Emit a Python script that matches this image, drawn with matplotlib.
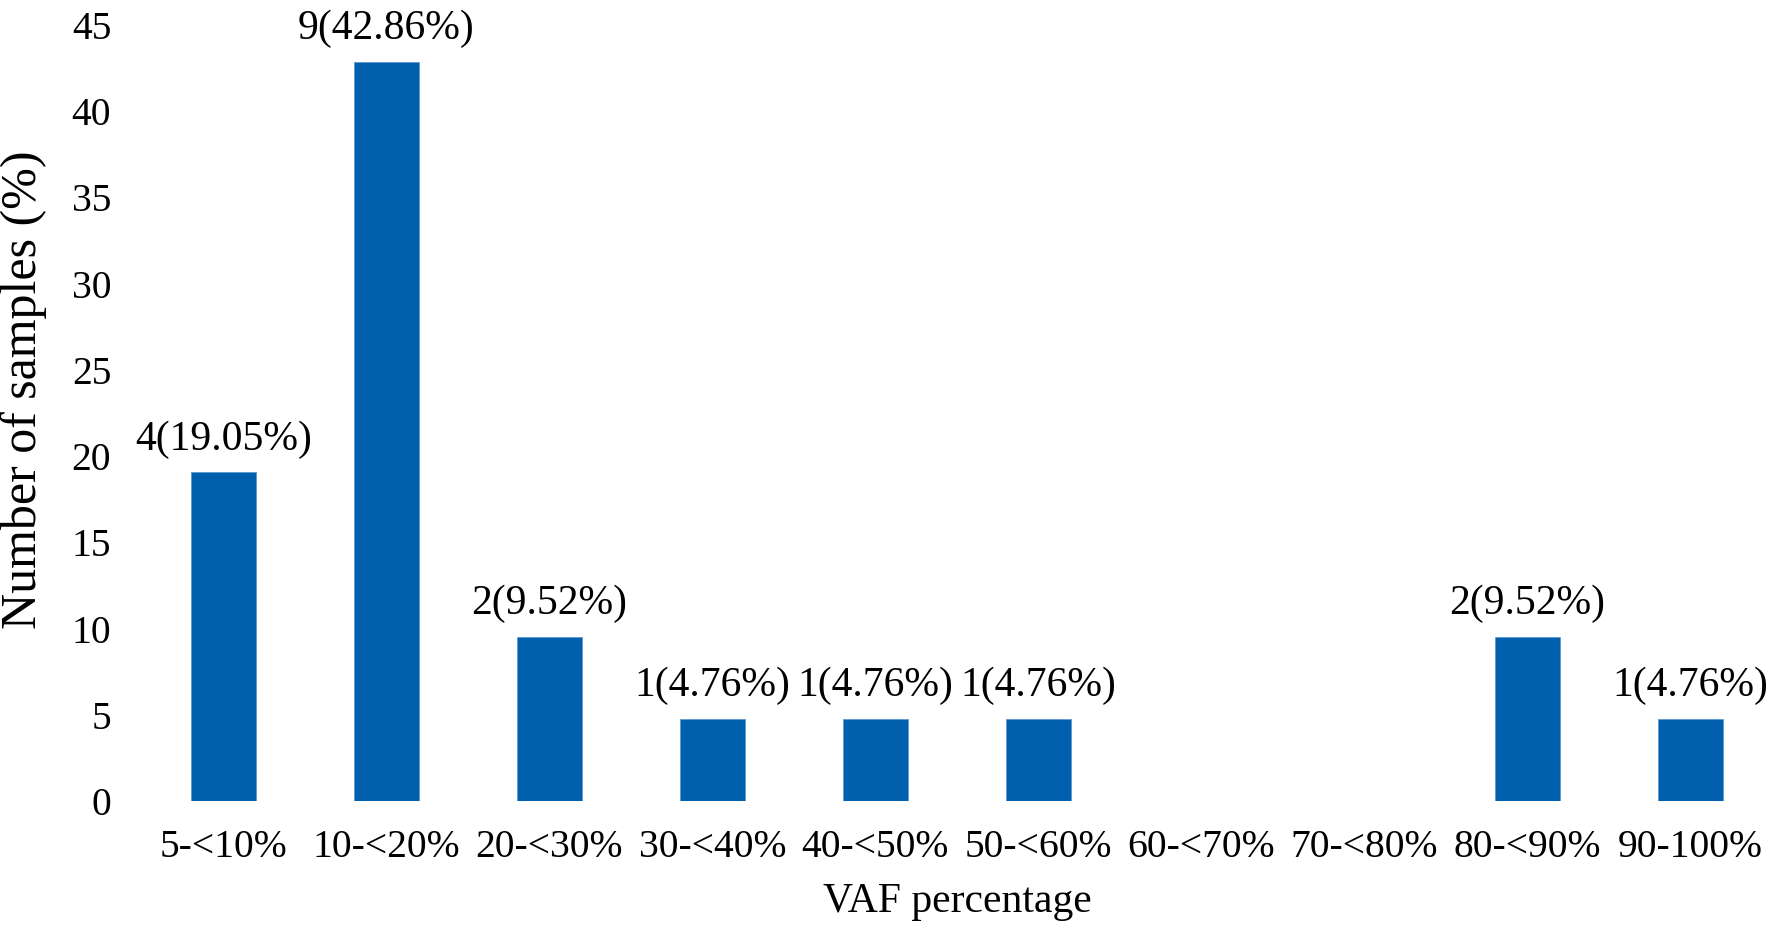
import matplotlib
matplotlib.use("Agg")
import matplotlib.pyplot as plt

categories = ["5-<10%", "10-<20%", "20-<30%", "30-<40%", "40-<50%",
              "50-<60%", "60-<70%", "70-<80%", "80-<90%", "90-100%"]
counts = [4, 9, 2, 1, 1, 1, 0, 0, 2, 1]
percents = [19.05, 42.86, 9.52, 4.76, 4.76, 4.76, 0, 0, 9.52, 4.76]
yticks = [0, 5, 10, 15, 20, 25, 30, 35, 40, 45]

plt.rcParams['font.family'] = ['Liberation Serif', 'DejaVu Serif']

fig = plt.figure(figsize=(17.72, 9.27), dpi=100)
ax = fig.add_axes([0.080, 0.136, 0.920, 0.837])

x = list(range(len(categories)))
ax.bar(x, percents, width=0.4, color='#0060AD', edgecolor='#5B9BD5', linewidth=0.6)

for xi, c, p in zip(x, counts, percents):
    if c > 0:
        ax.text(xi, p + 0.8, f"{c}({p:.2f}%)", ha='center', va='bottom', fontsize=30)

ax.set_xlim(-0.5, len(categories) - 0.5)
ax.set_ylim(0, 45)
ax.set_yticks(yticks)
ax.set_xticks(x)
ax.set_xticklabels(categories)
ax.tick_params(axis='both', length=0, labelsize=28.5)
ax.tick_params(axis='x', pad=20)
ax.tick_params(axis='y', pad=22)
for s in ax.spines.values():
    s.set_visible(False)

ax.set_xlabel("VAF percentage", fontsize=30, labelpad=12)
ax.set_ylabel("Number of samples (%)", fontsize=36)
ax.yaxis.set_label_coords(-0.058, 0.53)

fig.savefig("out.png", dpi=100)
